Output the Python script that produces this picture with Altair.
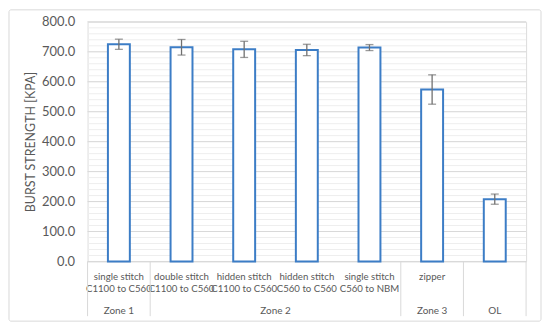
import altair as alt
import pandas as pd

categories = [
    "single stitch\nC1100 to C560",
    "double stitch\nC1100 to C560",
    "hidden stitch\nC1100 to C560",
    "hidden stitch\nC560 to C560",
    "single stitch\nC560 to NBM",
    "zipper",
    "",
]
cat_keys = ["c1", "c2", "c3", "c4", "c5", "c6", "c7"]
means = [725, 715, 708, 706, 714, 574, 208]
errors = [17, 26, 27, 19, 10, 49, 17]

zones = ["Zone 1", "Zone 2", "Zone 3", "OL"]
zone_sizes = [1, 4, 1, 1]

y_major = [0, 100, 200, 300, 400, 500, 600, 700, 800]
y_minor = list(range(0, 801, 20))

W, H = 441, 241
TXT = "#595959"
FONT = "Lato"
YTITLE = "BURST STRENGTH [KPA]"

df = pd.DataFrame({
    "key": cat_keys,
    "label": categories,
    "mean": means,
    "err": errors,
})
df["lo"] = df["mean"] - df["err"]
df["hi"] = df["mean"] + df["err"]

label_map = "{" + ",".join(
    f"'{k}': {repr(l.split(chr(10)))}" for k, l in zip(cat_keys, categories)
) + "}"

starts, s = [], 0
for n in zone_sizes:
    starts.append(s)
    s += n
zdf = pd.DataFrame({
    "zone": zones,
    "center": [st + n / 2 for st, n in zip(starts, zone_sizes)],
})
sep = pd.DataFrame({"pos": starts + [s]})

yscale = alt.Scale(domain=[0, 800], nice=False)
yaxis = alt.Axis(
    values=y_major, format=".1f", grid=False, domain=False, ticks=False,
    labelFontSize=13, labelColor=TXT, labelFont=FONT, labelPadding=13,
    labelOverlap=False, labelBound=False,
    title=YTITLE, titleFontSize=12.5, titleFont=FONT,
    titleFontWeight="normal", titleColor=TXT, titleAngle=270,
    titleX=-57, titleY=H / 2, titleAlign="center", titleBaseline="middle",
)
xband = alt.X(
    "key:N",
    sort=cat_keys,
    scale=alt.Scale(paddingInner=0.65, paddingOuter=0.325),
    axis=alt.Axis(
        title=None, domain=False, ticks=False, labelAngle=0,
        labelExpr=f"{label_map}[datum.value]",
        labelFontSize=9.7, labelColor=TXT, labelFont=FONT,
        labelPadding=10, labelLineHeight=12.5, labelBaseline="top",
        labelOverlap=False, labelLimit=0, labelBound=False,
    ),
)

def Y(field):
    return alt.Y(field, scale=yscale, axis=yaxis, title=YTITLE)

minor = alt.Chart(pd.DataFrame({"v": y_minor})).mark_rule(
    color="#eeeeee", strokeWidth=1
).encode(y=Y("v:Q"))

major = alt.Chart(pd.DataFrame({"v": y_major})).mark_rule(
    color="#d9d9d9", strokeWidth=1
).encode(y=Y("v:Q"))

ERR = "#707070"
base = alt.Chart(df)
bars = base.mark_bar(fill="white", stroke="#3c7dc6", strokeWidth=2).encode(
    x=xband, y=Y("mean:Q")
)
err_rule = base.mark_rule(color=ERR, strokeWidth=1.3).encode(
    x=alt.X("key:N", sort=cat_keys), y=Y("lo:Q"), y2="hi:Q"
)
cap_lo = base.mark_tick(color=ERR, size=8, thickness=1.3).encode(
    x=alt.X("key:N", sort=cat_keys), y=Y("lo:Q")
)
cap_hi = base.mark_tick(color=ERR, size=8, thickness=1.3).encode(
    x=alt.X("key:N", sort=cat_keys), y=Y("hi:Q")
)

main = alt.layer(minor, major, bars, err_rule, cap_lo, cap_hi)

xq = alt.Scale(domain=[0, s], nice=False, zero=False)
zone_text = alt.Chart(zdf).mark_text(
    fontSize=10, font=FONT, color=TXT, baseline="middle", align="center"
).encode(
    x=alt.X("center:Q", scale=xq, axis=None),
    y=alt.value(H + 50),
    text="zone:N",
)
sep_rules = alt.Chart(sep).mark_rule(color="#d9d9d9", strokeWidth=1).encode(
    x=alt.X("pos:Q", scale=xq, axis=None),
    y=alt.value(H),
    y2=alt.value(H + 55),
)
frame = alt.Chart(pd.DataFrame({"a": [0]})).mark_rect(
    fill=None, stroke="#d9d9d9", strokeWidth=1, cornerRadius=2
).encode(
    x=alt.value(-79), x2=alt.value(W + 15),
    y=alt.value(-12), y2=alt.value(H + 60),
)

chart = alt.layer(main, zone_text, sep_rules, frame).resolve_scale(
    x="independent"
).properties(
    width=W, height=H,
    autosize=alt.AutoSizeParams(type="none"),
    padding={"left": 80, "top": 13, "right": 16, "bottom": 61},
).configure_view(stroke=None).configure_axisY(
    labelOverlap=False
).configure(background="white")

chart.save("out.html", embed_options={"renderer": "svg", "actions": False})
